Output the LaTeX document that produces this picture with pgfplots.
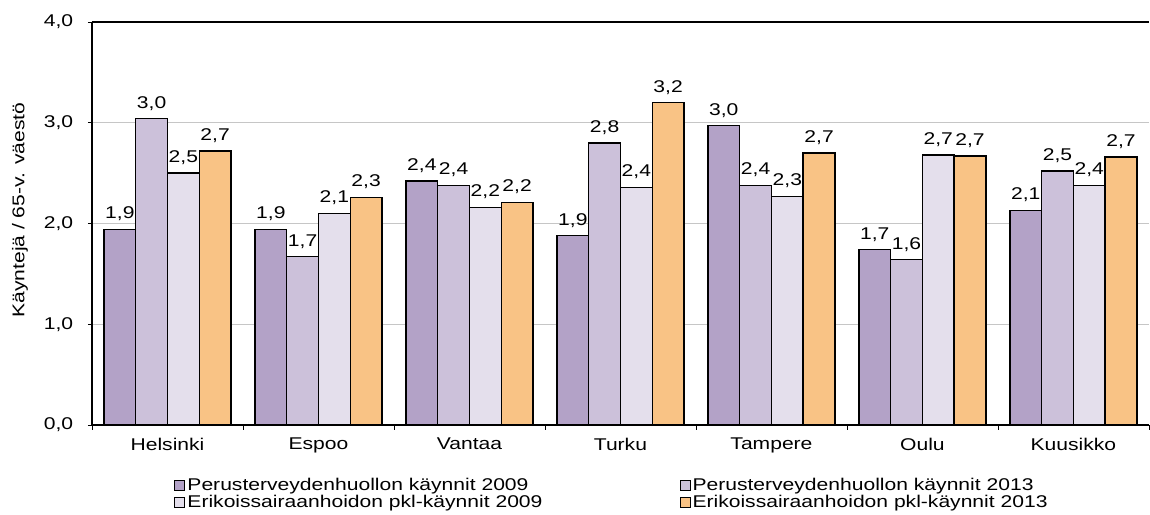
\documentclass[border=0pt]{standalone}
\usepackage{pgfplots}
\pgfplotsset{compat=1.18}
\usepackage{fontspec}
\setmainfont{Liberation Sans}[FakeStretch=1.24]

\definecolor{pt09}{HTML}{B3A2C7}
\definecolor{pt13}{HTML}{CCC1DA}
\definecolor{es09}{HTML}{E4DFEC}
\definecolor{es13}{HTML}{F9C385}

\begin{document}
\fontsize{17}{19}\selectfont
\begin{tikzpicture}
  \begin{axis}[
      name=ax,
      width=1057pt, height=403pt, scale only axis,
      ybar=0pt, bar width=31.75pt,
      xmin=-0.5, xmax=6.5, ymin=0, ymax=4,
      enlargelimits=false,
      axis x line=box, axis y line=left,
      axis line style={-, black, line width=1.3pt},
      xtick={0,...,6},
      xticklabels={Helsinki,Espoo,Vantaa,Turku,Tampere,Oulu,Kuusikko},
      minor xtick={-0.5,0.5,...,6.5},
      major x tick style={draw=none},
      minor x tick style={black, line width=0.8pt},
      ytick={0,1,2,3,4},
      ytick style={black, line width=0.8pt},
      xtick pos=bottom, ytick pos=left,
      tick align=outside,
      major tick length=4pt, minor tick length=5pt,
      ymajorgrids,
      major grid style={gray!45, line width=1pt},
      /pgf/number format/use comma,
      /pgf/number format/fixed,
      /pgf/number format/fixed zerofill,
      /pgf/number format/precision=1,
      /pgf/number format/assume math mode=true,
      yticklabel style={xshift=-9pt},
      xticklabel style={yshift=-3pt},
      ylabel={Käyntejä / 65-v. väestö},
      ylabel style={at={(axis description cs:-0.0681,0.533)}, anchor=center},
      every axis plot/.append style={draw=black, line width=1.4pt},
      nodes near coords,
      every node near coord/.append style={black, yshift=2pt},
      legend columns=2,
      legend cell align=left,
      legend style={draw=none, fill=none, at={(0.075,-0.122)}, anchor=north west,
        row sep=-2.5pt,
        /tikz/every even column/.append style={column sep=135pt}},
      legend image code/.code={\draw[#1,line width=1pt] (0pt,-5pt) rectangle (10pt,5pt);},
    ]
    % Perusterveydenhuollon kaynnit 2009
    \addplot[fill=pt09] coordinates {(0,1.94) (1,1.94) (2,2.42) (3,1.88) (4,2.97) (5,1.74) (6,2.13)};
    % Perusterveydenhuollon kaynnit 2013
    \addplot[fill=pt13] coordinates {(0,3.04) (1,1.67) (2,2.38) (3,2.80) (4,2.38) (5,1.64) (6,2.52)};
    % Erikoissairaanhoidon pkl-kaynnit 2009
    \addplot[fill=es09] coordinates {(0,2.50) (1,2.10) (2,2.16) (3,2.36) (4,2.27) (5,2.68) (6,2.38)};
    % Erikoissairaanhoidon pkl-kaynnit 2013
    \addplot[fill=es13] coordinates {(0,2.72) (1,2.26) (2,2.21) (3,3.20) (4,2.70) (5,2.67) (6,2.66)};
    \legend{Perusterveydenhuollon käynnit 2009, Perusterveydenhuollon käynnit 2013,
            Erikoissairaanhoidon pkl-käynnit 2009, Erikoissairaanhoidon pkl-käynnit 2013}
  \end{axis}
  \pgfresetboundingbox
  \path[use as bounding box] ([shift={(-92pt,-90pt)}]ax.south west)
    rectangle ([shift={(1058pt,22pt)}]ax.north west);
\end{tikzpicture}
\end{document}
